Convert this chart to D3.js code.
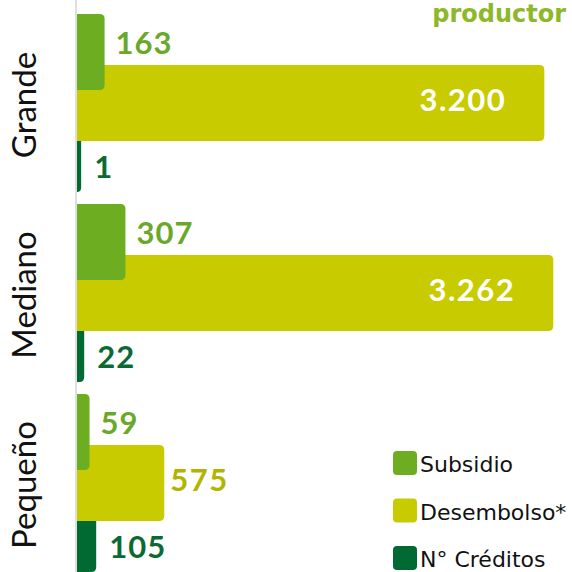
<!DOCTYPE html>
<html><head><meta charset="utf-8">
<script src="https://cdn.jsdelivr.net/npm/d3@7"></script>
<style>html,body{margin:0;padding:0;background:#fff;overflow:hidden}</style>
</head><body>
<svg id="c" width="572" height="572"></svg>
<script>
const categories = ["Grande", "Mediano", "Pequeño"];
const series = ["Subsidio", "Desembolso*", "N° Créditos"];
const subsidio = [163, 307, 59];
const desembolso = [3200, 3262, 575];
const creditos = [1, 22, 105];
const labelsSubsidio = ["163", "307", "59"];
const labelsDesembolso = ["3.200", "3.262", "575"];
const labelsCreditos = ["1", "22", "105"];
const titleText = "productor";

const colors = {"Subsidio": "#6cad22", "Desembolso*": "#c8cb00", "N° Créditos": "#006a32"};
const values = {"Subsidio": subsidio, "Desembolso*": desembolso, "N° Créditos": creditos};

const svg = d3.select("#c");
const axisX = 76;
const barH = 76;
const y = d3.scaleBand().domain(categories).range([14, 572]).paddingInner(12/190).paddingOuter(0);
const inner = d3.scalePoint().domain(series).range([0, 102]);
const x = d3.scaleLinear().domain([0, 3262]).range([81, 553.3]);

function barPath(x0, x1, y0, h, r) {
  r = Math.min(r, (x1 - x0));
  return `M${x0},${y0}H${x1 - r}Q${x1},${y0} ${x1},${y0 + r}V${y0 + h - r}Q${x1},${y0 + h} ${x1 - r},${y0 + h}H${x0}Z`;
}

const numFont = "Lato, 'DejaVu Sans', sans-serif";
const numSize = 31;

// draw in reverse order so Subsidio is on top
[...series].reverse().forEach(s => {
  svg.append("g").selectAll("path").data(categories).join("path")
    .attr("d", (c, i) => barPath(axisX + 1, x(values[s][i]), y(c) + inner(s), barH, 5))
    .attr("fill", colors[s]);
});

// axis line
svg.append("line").attr("x1", axisX).attr("x2", axisX).attr("y1", 0).attr("y2", 572)
  .attr("stroke", "#d4d4d4").attr("stroke-width", 1.5);

// labels
svg.append("g").selectAll("text").data(categories).join("text")
  .attr("x", (c, i) => x(subsidio[i]) + 11)
  .attr("y", c => y(c) + 40)
  .attr("fill", "#6aa82a").attr("font-family", numFont).attr("font-weight", 700)
  .attr("font-size", numSize).attr("letter-spacing", 1)
  .text((c, i) => labelsSubsidio[i]);

svg.append("g").selectAll("text").data(categories).join("text")
  .each(function(c, i) {
    const inside = desembolso[i] > 1500;
    d3.select(this)
      .attr("x", inside ? x(desembolso[i]) - 38 : x(desembolso[i]) + 6)
      .attr("text-anchor", inside ? "end" : "start")
      .attr("fill", inside ? "#ffffff" : "#b2b500");
  })
  .attr("y", c => y(c) + inner("Desembolso*") + 46)
  .attr("font-family", numFont).attr("font-weight", 700)
  .attr("font-size", numSize).attr("letter-spacing", 1.5)
  .text((c, i) => labelsDesembolso[i]);

svg.append("g").selectAll("text").data(categories).join("text")
  .attr("x", (c, i) => x(creditos[i]) + 13)
  .attr("y", c => y(c) + 164)
  .attr("fill", "#0b6a33").attr("font-family", numFont).attr("font-weight", 700)
  .attr("font-size", numSize).attr("letter-spacing", 1)
  .text((c, i) => labelsCreditos[i]);

// category labels
svg.append("g").selectAll("text").data(categories).join("text")
  .attr("transform", c => `translate(36,${y(c) + y.bandwidth() / 2 + 2}) rotate(-90)`)
  .attr("text-anchor", "middle")
  .attr("fill", "#111").attr("font-family", "Lato, sans-serif").attr("font-size", 33)
  .text(c => c);

// title fragment
svg.append("text").attr("x", 566).attr("y", 22).attr("text-anchor", "end")
  .attr("fill", "#8cb829").attr("font-family", "'DejaVu Sans', sans-serif").attr("font-weight", 700).attr("font-size", 24)
  .text(titleText);

// legend
const lg = svg.append("g").selectAll("g").data(series).join("g")
  .attr("transform", (s, i) => `translate(393,${451 + i * 47.5})`);
lg.append("rect").attr("width", 24).attr("height", 24).attr("rx", 4).attr("fill", s => colors[s]);
lg.append("text").attr("x", 27).attr("y", 21).attr("fill", "#111")
  .attr("font-family", "'DejaVu Sans', sans-serif").attr("font-size", 22).text(s => s);
</script>
</body></html>
